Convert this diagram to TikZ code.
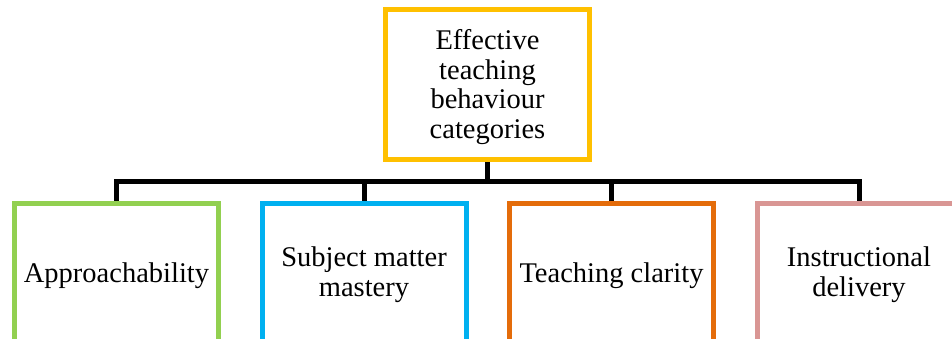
\documentclass[tikz,border=0pt]{standalone}
\usepackage{fontspec}
\newfontfamily\catfont{Liberation Serif}
\definecolor{topgold}{HTML}{FFC000}
\definecolor{catgreen}{HTML}{92D050}
\definecolor{catblue}{HTML}{00B0F0}
\definecolor{catorange}{HTML}{E46C0A}
\definecolor{catpink}{HTML}{D99694}
\newcommand{\catlines}[1]{\begin{tabular}{@{}c@{}}#1\end{tabular}}

\begin{document}
\begin{tikzpicture}[x=1pt,y=-1pt,
  catbox/.style={draw=#1,line width=5pt,inner sep=0pt,minimum width=204pt},
  cattext/.style={inner sep=0pt,font=\catfont\fontsize{28.5}{29.5}\selectfont},
  conn/.style={draw=black,line width=5pt,line join=miter}]%
\useasboundingbox (0,0) rectangle (952,338);
\coordinate (bus) at (487.5,181.5);
\node [catbox=topgold,minimum height=150pt] (top) at (487.5,84.5) {};
\node [catbox=catgreen,minimum height=142pt] (appr) at (116.5,274) {};
\node [catbox=catblue,minimum height=142pt] (subj) at (364,274) {};
\node [catbox=catorange,minimum height=142pt] (clar) at (611.5,274) {};
\node [catbox=catpink,minimum height=142pt] (deliv) at (859,274) {};
\node [cattext] (toptext) at (487.5,88) {\catlines{Effective\\teaching\\behaviour\\categories}};
\node [cattext] (apprtext) at (116.5,275.5) {Approachability};
\node [cattext] (subjtext) at (364,275.5) {\catlines{Subject matter\\mastery}};
\node [cattext] (clartext) at (611.5,275.5) {Teaching clarity};
\node [cattext] (delivtext) at (859,275.5) {\catlines{Instructional\\delivery}};
\draw[conn] (top.south) -- (bus);
\draw[conn] (appr.north) |- (bus -| deliv.north) -- (deliv.north);
\draw[conn] (subj.north) -- (subj.north |- bus);
\draw[conn] (clar.north) -- (clar.north |- bus);
\end{tikzpicture}
\end{document}
